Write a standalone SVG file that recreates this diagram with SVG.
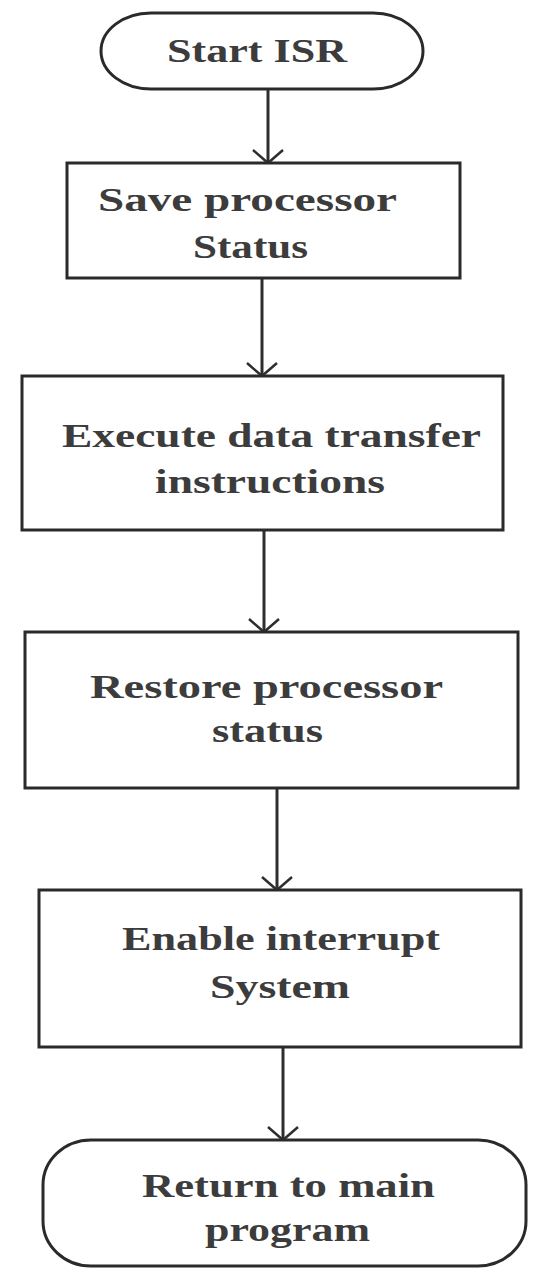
<svg xmlns="http://www.w3.org/2000/svg" width="538" height="1270" viewBox="0 0 538 1270">
<defs>
<style>
.shape{fill:#ffffff;stroke:#2a2a2a;stroke-width:3}
.lbl{font-family:"Liberation Serif","Times New Roman",serif;font-size:34px;font-weight:bold;fill:#3c3c3c}
.conn{stroke:#2e2e2e;stroke-width:3;fill:none}
</style>
<marker id="chev" markerUnits="userSpaceOnUse" viewBox="-2 -17 17 34" markerWidth="17" markerHeight="34" refX="13" refY="0" orient="auto">
<path d="M0,-15 L13,0 L0,15" fill="none" stroke="#2e2e2e" stroke-width="2.5"/>
</marker>
</defs>
<rect width="538" height="1270" fill="#ffffff"/>
<g id="connectors">
<line class="conn" x1="268" y1="90" x2="268" y2="163" marker-end="url(#chev)"/>
<line class="conn" x1="262" y1="278" x2="262" y2="376" marker-end="url(#chev)"/>
<line class="conn" x1="264" y1="530" x2="264" y2="632" marker-end="url(#chev)"/>
<line class="conn" x1="277" y1="788" x2="277" y2="890" marker-end="url(#chev)"/>
<line class="conn" x1="283" y1="1047" x2="283" y2="1140" marker-end="url(#chev)"/>
</g>
<g id="start">
<rect class="shape" x="101" y="13" width="322" height="76" rx="50" ry="38"/>
<text class="lbl" x="167" y="62" font-size="36" textLength="180" lengthAdjust="spacingAndGlyphs">Start ISR</text>
</g>
<g id="save">
<rect class="shape" x="67" y="163" width="393" height="115"/>
<text class="lbl" x="98" y="211" textLength="299" lengthAdjust="spacingAndGlyphs">Save processor</text>
<text class="lbl" x="193" y="258" textLength="115" lengthAdjust="spacingAndGlyphs">Status</text>
</g>
<g id="execute">
<rect class="shape" x="22" y="376" width="481" height="154"/>
<text class="lbl" x="62" y="447" textLength="419" lengthAdjust="spacingAndGlyphs">Execute data transfer</text>
<text class="lbl" x="155" y="493" textLength="230" lengthAdjust="spacingAndGlyphs">instructions</text>
</g>
<g id="restore">
<rect class="shape" x="25" y="632" width="493" height="156"/>
<text class="lbl" x="90" y="698" textLength="353" lengthAdjust="spacingAndGlyphs">Restore processor</text>
<text class="lbl" x="212" y="742" textLength="111" lengthAdjust="spacingAndGlyphs">status</text>
</g>
<g id="enable">
<rect class="shape" x="39" y="890" width="482" height="157"/>
<text class="lbl" x="122" y="950" textLength="318" lengthAdjust="spacingAndGlyphs">Enable interrupt</text>
<text class="lbl" x="210" y="998" textLength="140" lengthAdjust="spacingAndGlyphs">System</text>
</g>
<g id="return">
<rect class="shape" x="43" y="1140" width="483" height="126" rx="48" ry="45"/>
<text class="lbl" x="142" y="1197" textLength="293" lengthAdjust="spacingAndGlyphs">Return to main</text>
<text class="lbl" x="205" y="1241" textLength="165" lengthAdjust="spacingAndGlyphs">program</text>
</g>
</svg>
